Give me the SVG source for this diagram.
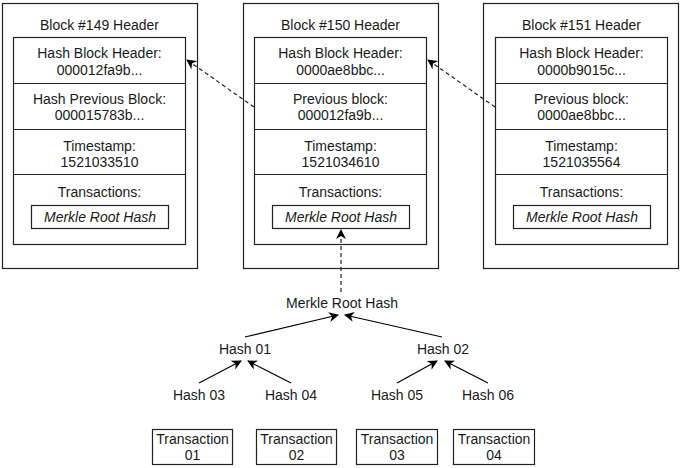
<svg xmlns="http://www.w3.org/2000/svg" width="681" height="468" viewBox="0 0 681 468">
<defs>
<marker id="arr" viewBox="0 0 10 10" refX="9" refY="5" markerWidth="10" markerHeight="10" markerUnits="userSpaceOnUse" orient="auto">
<path d="M0,0 L10,5 L0,10 L3,5 z" fill="#000"/>
</marker>
</defs>
<style>
text{font-family:"Liberation Sans",Arial,Helvetica,sans-serif;font-size:14px;fill:#1a1a1a;text-anchor:middle}
.it{font-style:italic}
.box{fill:#fff;stroke:#222;stroke-width:1.2}
.ln{fill:none;stroke:#222;stroke-width:1}
.dash{fill:none;stroke:#222;stroke-width:1.2;stroke-dasharray:4 3}
.sol{fill:none;stroke:#000;stroke-width:1.2}
</style>
<rect width="681" height="468" fill="#fff"/>

<g id="block149">
<rect class="box" x="2.5" y="3.5" width="195" height="265"/>
<text x="99.5" y="30">Block #149 Header</text>
<rect class="box" x="13.5" y="37.5" width="172" height="207"/>
<line class="ln" x1="13.5" y1="83.5" x2="185.5" y2="83.5"/>
<line class="ln" x1="13.5" y1="129.5" x2="185.5" y2="129.5"/>
<line class="ln" x1="13.5" y1="174.5" x2="185.5" y2="174.5"/>
<text x="99.5" y="58">Hash Block Header:</text>
<text x="99.5" y="75">000012fa9b...</text>
<text x="99.5" y="104">Hash Previous Block:</text>
<text x="99.5" y="120">000015783b...</text>
<text x="99.5" y="151">Timestamp:</text>
<text x="99.5" y="167">1521033510</text>
<text x="99.5" y="197">Transactions:</text>
<rect class="box" x="31.5" y="205.5" width="137" height="23"/>
<text class="it" x="100" y="222">Merkle Root Hash</text>
</g>

<g id="block150">
<rect class="box" x="243.5" y="3.5" width="195" height="265"/>
<text x="340.5" y="30">Block #150 Header</text>
<rect class="box" x="254.5" y="37.5" width="172" height="207"/>
<line class="ln" x1="254.5" y1="83.5" x2="426.5" y2="83.5"/>
<line class="ln" x1="254.5" y1="129.5" x2="426.5" y2="129.5"/>
<line class="ln" x1="254.5" y1="174.5" x2="426.5" y2="174.5"/>
<text x="340.5" y="58">Hash Block Header:</text>
<text x="340.5" y="75">0000ae8bbc...</text>
<text x="340.5" y="104">Previous block:</text>
<text x="340.5" y="120">000012fa9b...</text>
<text x="340.5" y="151">Timestamp:</text>
<text x="340.5" y="167">1521034610</text>
<text x="340.5" y="197">Transactions:</text>
<rect class="box" x="272.5" y="205.5" width="137" height="23"/>
<text class="it" x="341" y="222">Merkle Root Hash</text>
</g>

<g id="block151">
<rect class="box" x="483.5" y="3.5" width="195" height="265"/>
<text x="581.5" y="30">Block #151 Header</text>
<rect class="box" x="495.5" y="37.5" width="172" height="207"/>
<line class="ln" x1="495.5" y1="83.5" x2="667.5" y2="83.5"/>
<line class="ln" x1="495.5" y1="129.5" x2="667.5" y2="129.5"/>
<line class="ln" x1="495.5" y1="174.5" x2="667.5" y2="174.5"/>
<text x="581.5" y="58">Hash Block Header:</text>
<text x="581.5" y="75">0000b9015c...</text>
<text x="581.5" y="104">Previous block:</text>
<text x="581.5" y="120">0000ae8bbc...</text>
<text x="581.5" y="151">Timestamp:</text>
<text x="581.5" y="167">1521035564</text>
<text x="581.5" y="197">Transactions:</text>
<rect class="box" x="513.5" y="205.5" width="137" height="23"/>
<text class="it" x="582" y="222">Merkle Root Hash</text>
</g>

<g id="merkle-root"><text x="342" y="308">Merkle Root Hash</text></g>
<g id="hash01"><text x="245" y="354">Hash 01</text></g>
<g id="hash02"><text x="443" y="354">Hash 02</text></g>
<g id="hash03"><text x="199" y="400">Hash 03</text></g>
<g id="hash04"><text x="291" y="400">Hash 04</text></g>
<g id="hash05"><text x="397" y="400">Hash 05</text></g>
<g id="hash06"><text x="488" y="400">Hash 06</text></g>

<g id="tx01"><rect class="box" x="152.5" y="429.5" width="80" height="35"/><text x="192.5" y="444">Transaction</text><text x="192.5" y="460">01</text></g>
<g id="tx02"><rect class="box" x="256.5" y="429.5" width="80" height="35"/><text x="296.5" y="444">Transaction</text><text x="296.5" y="460">02</text></g>
<g id="tx03"><rect class="box" x="356.5" y="429.5" width="81" height="35"/><text x="397" y="444">Transaction</text><text x="397" y="460">03</text></g>
<g id="tx04"><rect class="box" x="453.5" y="429.5" width="81" height="35"/><text x="494" y="444">Transaction</text><text x="494" y="460">04</text></g>

<g id="connectors">
<line class="dash" x1="254" y1="107" x2="187" y2="60" marker-end="url(#arr)"/>
<line class="dash" x1="495" y1="107" x2="428" y2="60" marker-end="url(#arr)"/>
<line class="dash" x1="341" y1="292" x2="341" y2="230" marker-end="url(#arr)"/>
<line class="sol" x1="245" y1="337" x2="338" y2="315" marker-end="url(#arr)"/>
<line class="sol" x1="442" y1="337" x2="345" y2="315" marker-end="url(#arr)"/>
<line class="sol" x1="199" y1="383" x2="241" y2="361" marker-end="url(#arr)"/>
<line class="sol" x1="291" y1="383" x2="248" y2="361" marker-end="url(#arr)"/>
<line class="sol" x1="397" y1="383" x2="437" y2="361" marker-end="url(#arr)"/>
<line class="sol" x1="488" y1="383" x2="445" y2="361" marker-end="url(#arr)"/>
</g>
</svg>
